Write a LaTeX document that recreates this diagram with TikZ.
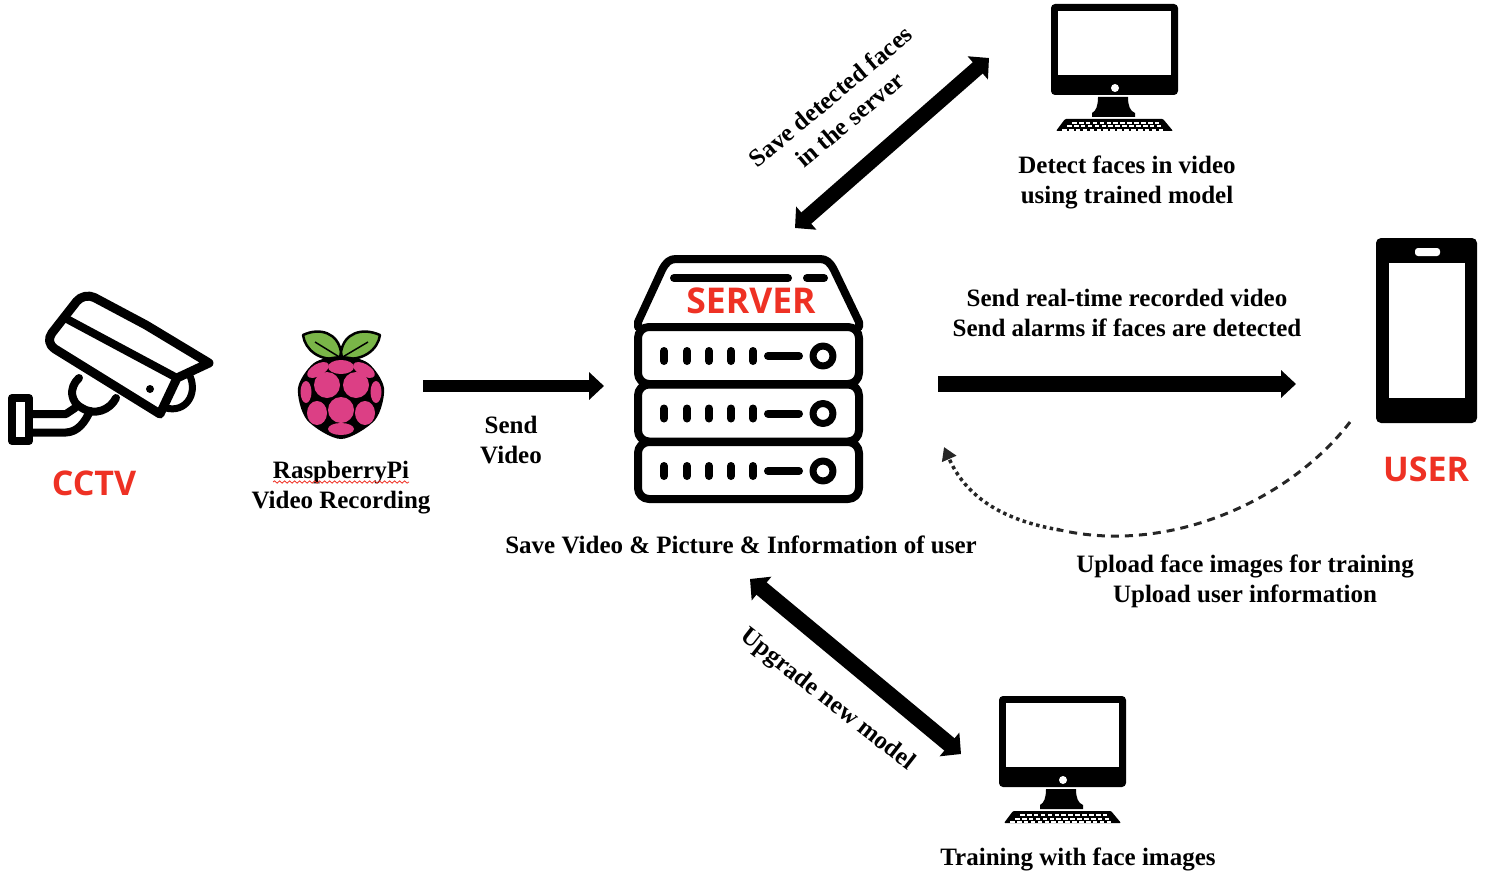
\documentclass[tikz,border=0pt]{standalone}
\usepackage{fontspec}
\setmainfont{Liberation Serif}
\newfontfamily\tagfont{Open Sans}
\usetikzlibrary{positioning, calc, arrows.meta, decorations.pathmorphing}

\definecolor{tagred}{HTML}{EE3124}
\definecolor{berry}{HTML}{DC3F85}
\definecolor{leaf}{HTML}{7AB648}

\tikzset{
    caption/.style={font=\bfseries\fontsize{25}{30}\selectfont, align=center, inner sep=0pt},
    tagtext/.style={font=\tagfont\bfseries\fontsize{#1}{38}\selectfont, text=tagred, inner sep=0pt},
    tagtext/.default=34,
    bigarrow/.style={line width=#1, -{Triangle[length=15pt,width=27pt]}},
    bothways/.style={line width=#1, {Triangle[length=15pt,width=30pt]}-{Triangle[length=15pt,width=30pt]}},
    icon/.style={line width=8pt, line join=round, line cap=round},
    cell/.style={fill=berry, draw=none},
    computer/.pic={
        \fill[rounded corners=4pt] (0,0) rectangle (127,91);
        \fill[white] (7,7) rectangle (120,71);
        \fill[white] (64,84) circle (4);
        \fill (47,93) -- (77,93) .. controls (77,102) and (79,107) .. (84,109) -- (84,113) -- (41,113) -- (41,109) .. controls (45,107) and (47,102) .. (47,93) -- cycle;
        \fill[rounded corners=1pt] (14,115) -- (112,115) -- (122,127) -- (5,127) -- cycle;
        \foreach \row/\xa/\n in {118/21/12, 121.5/16/13, 125/11/14}
            \foreach \k in {0,...,\n}
                \fill[white] ({\xa+\k*6.9},\row) rectangle ++(4.6,2);
    }
}

\begin{document}
\begin{tikzpicture}[x=1pt, y=-1pt]
    \useasboundingbox (0,0) rectangle (1498,888);

    % the camera
    \begin{scope}[icon]
        \draw[line width=7pt] (190,376) .. controls (198,395) and (185,413) .. (166,408);
        \draw (79,378) .. controls (68,388) and (71,403) .. (82,408) .. controls (95,416) and (110,410) .. (116,398);
        \draw (33,414) -- (66,414) -- (75,408);
        \draw (33,432.5) -- (66,432.5) .. controls (78,432) and (85,422) .. (90,411);
        \draw (12,398) rectangle (29,441);
        \draw[line width=9pt, fill=white] (146,325) -- (209,363) -- (177,378) -- (160,414) [rounded corners=12pt] -- (44.5,342.5) -- (84,292) -- (146,325);
        \draw (65,318) -- (177,378);
        \fill (150,389) circle (4);
    \end{scope}
    \node[tagtext] (cctv) at (94,483) {CCTV};

    % the raspberry
    \draw[fill=leaf, line width=2.5pt, line join=round] (340,358) .. controls (320,362) and (305,350) .. (303,335) .. controls (320,327) and (338,333) .. (341,352) -- cycle;
    \draw[fill=leaf, line width=2.5pt, line join=round] (342,358) .. controls (362,362) and (378,350) .. (380,335) .. controls (362,327) and (344,333) .. (341,352) -- cycle;
    \draw[line width=1.5pt] (341,358) -- (315,342);
    \draw[line width=1.5pt] (341,358) -- (368,342);
    \fill plot[smooth cycle] coordinates {(341,356) (368,363) (384,388) (375,420) (341,439) (307,420) (298,388) (314,363)};
    \fill[cell] (341,367) ellipse (13 and 7);
    \fill[cell, rotate around={30:(318,370)}] (318,370) ellipse (12 and 6);
    \fill[cell, rotate around={-30:(364,370)}] (364,370) ellipse (12 and 6);
    \fill[cell] (327,385) circle (13);
    \fill[cell] (356,385) circle (13);
    \fill[cell] (306,392) ellipse (5.5 and 11);
    \fill[cell] (376,392) ellipse (5.5 and 11);
    \fill[cell] (341,410) circle (13);
    \fill[cell] (317,413) ellipse (10 and 12);
    \fill[cell] (365,413) ellipse (10 and 12);
    \fill[cell] (341,429) ellipse (13 and 6);

    \node[caption] (rpi) at (341,487.5) {RaspberryPi\\Video Recording};
    \draw[tagred, line width=0.8pt, decorate, decoration={snake, amplitude=1.2pt, segment length=5pt}] (273,482) -- (409,482);

    % the server
    \begin{scope}[icon]
        \draw (638,327) -- (638,322) -- (662,270) .. controls (666,262) and (670,259) .. (676,259) -- (820,259) .. controls (826,259) and (830,262) .. (834,270) -- (859,322) -- (859,327);
        \foreach \row in {0,1,2}{
            \begin{scope}[yshift={-57.5*\row}]
                \draw[rounded corners=11pt] (638,327) rectangle (859,384);
                \foreach \x in {664,687,709,731,753}
                    \draw (\x,351) -- (\x,361);
                \draw (768,356) -- (799,356);
                \draw[line width=7pt] (823,356) circle (10);
            \end{scope}
        }
        \draw (674,278) -- (788,278);
        \draw (807,278) -- (824,278);
    \end{scope}
    \node[tagtext=35.5] (srv) at (751,301) {SERVER};
    \node[caption] (store) at (741,545) {Save Video \& Picture \& Information of user};

    % the phone
    \fill[rounded corners=5pt] (1376,238) rectangle (1477,423);
    \fill[white] (1389,263) rectangle (1465,398);
    \fill[white, rounded corners=3pt] (1415,248) rectangle (1440,256);
    \node[tagtext] (user) at (1426,469) {USER};

    % the two computers
    \pic (detect) at (1051,4) {computer};
    \pic (train) at (999,696) {computer};
    \node[caption] (detecttxt) at (1127,182) {Detect faces in video\\using trained model};
    \node[caption] (traintxt) at (1078,859) {Training with face images};

    % ends of the arrows
    \coordinate (rpiOut) at (423,386);
    \coordinate (srvIn) at (604,386);
    \coordinate (srvOut) at (938,384);
    \coordinate (usrIn) at (1296,384);
    \coordinate (usrOut) at (1350,422);
    \coordinate (bend) at (1060,530);
    \coordinate (srvBack) at (944,447);
    \coordinate (srvUp) at (795,228);
    \coordinate (detectEnd) at (989,58);
    \coordinate (srvDown) at (750,579);
    \coordinate (trainEnd) at (961,754);

    \draw[bigarrow=12.5pt] (rpiOut) -- (srvIn);
    \draw[bigarrow=16pt] (srvOut) -- (usrIn);
    \draw[bothways=15pt] (srvUp) -- (detectEnd);
    \draw[bothways=16pt] (srvDown) -- (trainEnd);
    \draw[line width=3pt, dash pattern=on 8pt off 6pt, gray!30!black] (usrOut) .. controls (1290,500) and (1170,555) .. (bend);
    \draw[line width=3.5pt, dash pattern=on 3.5pt off 3.5pt, gray!30!black, -{Triangle[length=13pt,width=15pt]}] (bend) .. controls (1000,520) and (965,495) .. (srvBack);

    % the labels
    \node[caption] (sendtxt) at (511,440) {Send\\Video};
    \node[caption] (livetxt) at (1127,313) {Send real-time recorded video\\Send alarms if faces are detected};
    \node[caption] (uploadtxt) at (1245,581) {Upload face images for training\\Upload user information};
    \node[caption, rotate=40] (savetxt) at (840,108) {Save detected faces\\in the server};
    \node[caption, rotate=-38] (upgradetxt) at (827,700) {Upgrade new model};
\end{tikzpicture}
\end{document}
